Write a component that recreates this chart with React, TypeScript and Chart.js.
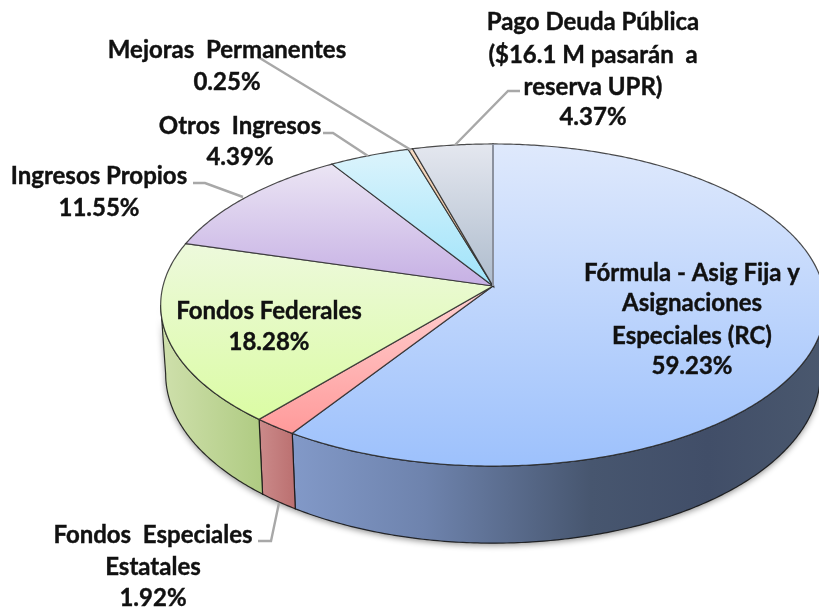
import React, { useEffect, useRef } from "react";
import { Chart, registerables } from "chart.js";

Chart.register(...registerables);

const categories = [
  "Fórmula - Asig Fija y Asignaciones Especiales (RC)",
  "Fondos Especiales Estatales",
  "Fondos Federales",
  "Ingresos Propios",
  "Otros Ingresos",
  "Mejoras Permanentes",
  "Pago Deuda Pública",
];
const values = [59.23, 1.92, 18.28, 11.55, 4.39, 0.25, 4.37];
const topLight = ["#dfe9fc", "#ffd2d2", "#edf9dc", "#ebe5f4", "#dcf4fc", "#f6dcc4", "#e4e7ef"];
const topDeep = ["#9dc1fc", "#ff9a9a", "#dbfca4", "#c6b0e4", "#9fe3fa", "#e0b48e", "#aebccd"];
const wallStops: [number, string][][] = [
  [[0, "#8299c8"], [0.25, "#6e83ad"], [0.56, "#47566f"], [0.78, "#414e68"], [1, "#4a586e"]],
  [[0, "#cb8a8a"], [1, "#bb7070"]],
  [[0, "#cfe0ac"], [1, "#afcb82"]],
  [[0, "#bbb"], [1, "#999"]],
  [[0, "#bbb"], [1, "#999"]],
  [[0, "#bbb"], [1, "#999"]],
  [[0, "#bbb"], [1, "#999"]],
];

type Lbl = { lines: string[]; x: number; ys: number[] };
const labelBlocks: Lbl[] = [
  { lines: ["Pago Deuda Pública", "($16.1 M pasarán  a", "reserva UPR)", "4.37%"], x: 593, ys: [22, 55, 87, 117] },
  { lines: ["Mejoras  Permanentes", "0.25%"], x: 227, ys: [50, 82] },
  { lines: ["Otros  Ingresos", "4.39%"], x: 240, ys: [126, 157] },
  { lines: ["Ingresos Propios", "11.55%"], x: 99, ys: [176, 208] },
  { lines: ["Fórmula - Asig Fija y", "Asignaciones", "Especiales (RC)", "59.23%"], x: 692, ys: [273, 303, 336, 366] },
  { lines: ["Fondos Federales", "18.28%"], x: 269, ys: [311, 342] },
  { lines: ["Fondos  Especiales", "Estatales", "1.92%"], x: 153, ys: [535, 567, 598] },
];
const leaders: number[][][] = [
  [[258, 57], [411, 150]],
  [[520, 91], [508, 91], [455, 145]],
  [[323, 133], [333, 133], [368, 156]],
  [[193, 183], [205, 183], [243, 197]],
  [[258, 541], [271, 541], [279, 503]],
];

const PERSPECTIVE = 0.118;
const SCALE_X = 330 / 286;
const SCALE_Y = 158.8 / 286;
const DEPTH = 68;
const BOTTOM_SHRINK = 0.985;

const pie3d = {
  id: "pie3d",
  beforeDatasetDraw(chart: any) {
    const ctx: CanvasRenderingContext2D = chart.ctx;
    const arcs: any[] = chart.getDatasetMeta(0).data;
    const cx = arcs[0].x;
    const cy = arcs[0].y;
    const R = arcs[0].outerRadius * SCALE_X;
    const H = arcs[0].outerRadius * SCALE_Y;
    const top = (a: number): [number, number] => {
      const d = 1 - PERSPECTIVE * Math.sin(a);
      return [cx + (R * Math.cos(a)) / d, cy + (H * Math.sin(a)) / d];
    };
    const bottom = (a: number): [number, number] => {
      const d = 1 - PERSPECTIVE * Math.sin(a);
      const [x, y] = top(a);
      return [cx + (x - cx) * BOTTOM_SHRINK, y + DEPTH / d];
    };
    const arcPts = (f: (a: number) => [number, number], a0: number, a1: number) => {
      const n = Math.max(2, Math.ceil(Math.abs(a1 - a0) / 0.01));
      const pts: [number, number][] = [];
      for (let i = 0; i <= n; i++) pts.push(f(a0 + ((a1 - a0) * i) / n));
      return pts;
    };
    const trace = (pts: [number, number][]) => {
      pts.forEach((p, i) => (i ? ctx.lineTo(p[0], p[1]) : ctx.moveTo(p[0], p[1])));
    };
    const frontA = Math.asin(PERSPECTIVE);
    const frontB = Math.PI - frontA;

    ctx.save();
    // soft shadow beneath the disc
    ctx.save();
    ctx.shadowColor = "rgba(0,0,0,0.45)";
    ctx.shadowBlur = 6;
    ctx.shadowOffsetY = 2;
    ctx.fillStyle = "#555";
    ctx.beginPath();
    trace([...arcPts(top, frontA, frontB), ...arcPts(bottom, frontB, frontA)]);
    ctx.closePath();
    ctx.fill();
    ctx.restore();

    // walls
    arcs.forEach((el, i) => {
      const a0 = Math.max(el.startAngle, frontA);
      const a1 = Math.min(el.endAngle, frontB);
      if (a1 <= a0) return;
      const pts = [...arcPts(top, a0, a1), ...arcPts(bottom, a1, a0)];
      const xs = pts.map((p) => p[0]);
      const g = ctx.createLinearGradient(Math.min(...xs), 0, Math.max(...xs), 0);
      // gradient runs left to right on screen
      wallStops[i].forEach(([s, c]) => g.addColorStop(s, c));
      ctx.beginPath();
      trace(pts);
      ctx.closePath();
      ctx.fillStyle = g;
      ctx.fill();
      ctx.strokeStyle = "rgba(20,20,20,0.85)";
      ctx.lineWidth = 1.2;
      ctx.stroke();
    });

    // top faces
    arcs.forEach((el, i) => {
      const rim = arcPts(top, el.startAngle, el.endAngle);
      const ys = [cy, ...rim.map((p) => p[1])];
      const g = ctx.createLinearGradient(0, Math.min(...ys), 0, Math.max(...ys));
      g.addColorStop(0, topLight[i]);
      g.addColorStop(1, topDeep[i]);
      ctx.beginPath();
      trace([[cx, cy], ...rim]);
      ctx.closePath();
      ctx.fillStyle = g;
      ctx.fill();
      ctx.strokeStyle = "rgba(45,45,45,0.85)";
      ctx.lineWidth = 1.2;
      ctx.stroke();
    });

    // lighter seam where the last slice meets the first
    const seam = top(arcs[0].startAngle);
    ctx.beginPath();
    ctx.moveTo(cx, cy);
    ctx.lineTo(seam[0], seam[1]);
    ctx.strokeStyle = "#8b919e";
    ctx.lineWidth = 2;
    ctx.stroke();
    ctx.restore();
    return false;
  },
  afterDraw(chart: any) {
    const ctx: CanvasRenderingContext2D = chart.ctx;
    ctx.save();
    ctx.strokeStyle = "#a8a8a8";
    ctx.lineWidth = 2.4;
    leaders.forEach((l) => {
      ctx.beginPath();
      l.forEach((p, i) => (i ? ctx.lineTo(p[0], p[1]) : ctx.moveTo(p[0], p[1])));
      ctx.stroke();
    });
    ctx.fillStyle = "#111";
    ctx.strokeStyle = "#111";
    ctx.lineWidth = 0.4;
    ctx.font = "bold 24px Lato, 'Open Sans', sans-serif";
    ctx.textAlign = "center";
    ctx.textBaseline = "middle";
    labelBlocks.forEach((b) =>
      b.lines.forEach((t, i) => {
        ctx.fillText(t, b.x, b.ys[i]);
        ctx.strokeText(t, b.x, b.ys[i]);
      })
    );
    ctx.restore();
  },
};

export default function App() {
  const ref = useRef<HTMLCanvasElement>(null);
  useEffect(() => {
    document.body.style.margin = "0";
    document.body.style.overflow = "hidden";
    const chart = new Chart(ref.current as HTMLCanvasElement, {
      type: "pie",
      data: {
        labels: categories,
        datasets: [{ data: values, backgroundColor: topDeep, borderWidth: 0 }],
      },
      options: {
        responsive: false,
        animation: false,
        events: [],
        layout: { padding: { left: 167, top: 0, right: 0, bottom: 39 } },
        plugins: { legend: { display: false }, tooltip: { enabled: false }, title: { display: false } },
      },
      plugins: [pie3d],
    } as any);
    return () => chart.destroy();
  }, []);
  return (
    <canvas
      ref={ref}
      width={819}
      height={611}
      style={{ display: "block", width: 819, height: 611, background: "#fff" }}
    />
  );
}
